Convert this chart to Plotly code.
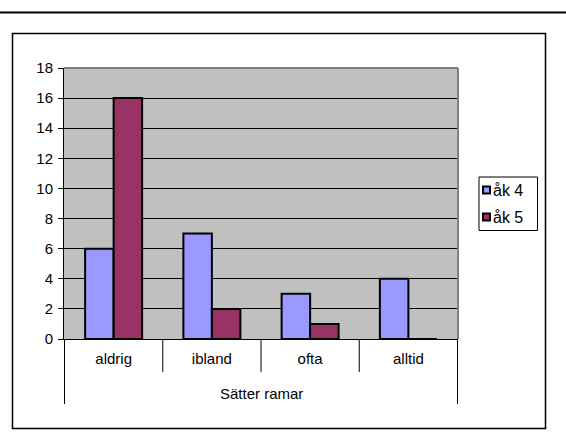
import plotly.graph_objects as go

categories = ["aldrig", "ibland", "ofta", "alltid"]
series_names = ["åk 4", "åk 5"]
ak4_values = [6, 7, 3, 4]
ak5_values = [16, 2, 1, 0]
y_ticks = [0, 2, 4, 6, 8, 10, 12, 14, 16, 18]
axis_title = "Sätter ramar"
colors = ["#9999FF", "#993366"]

W_PX, H_PX = 566, 441
L, R, T, B = 64, 458, 68, 339
PW, PH = R - L, B - T


def px(x):
    return (x - L) / PW


def py(y):
    return (B - y) / PH


FONT = "Liberation Sans, Arial, sans-serif"
FS = 15

fig = go.Figure()
for name, vals, col in zip(series_names, [ak4_values, ak5_values], colors):
    fig.add_trace(go.Bar(
        x=categories, y=vals, name=name,
        marker=dict(color=col, line=dict(color="black", width=2)),
        showlegend=False, hoverinfo="skip",
    ))

shapes = []
# top rule across the page
shapes.append(dict(type="line", xref="paper", yref="paper",
                   x0=px(0), x1=px(W_PX), y0=py(12.5), y1=py(12.5),
                   line=dict(color="black", width=2)))
# chart frame
shapes.append(dict(type="rect", xref="paper", yref="paper",
                   x0=px(12.5), x1=px(545.5), y0=py(33.5), y1=py(428.5),
                   line=dict(color="black", width=1.5), layer="below"))
# plot area top/right grey borders
shapes.append(dict(type="line", xref="paper", yref="paper",
                   x0=0, x1=1, y0=1, y1=1, line=dict(color="#808080", width=2)))
shapes.append(dict(type="line", xref="paper", yref="paper",
                   x0=1, x1=1, y0=0, y1=1, line=dict(color="#808080", width=2)))
# category dividers
n = len(categories)
for i in range(n + 1):
    outer = i == 0 or i == n
    shapes.append(dict(type="line", xref="x", yref="paper",
                       x0=i - 0.5, x1=i - 0.5, y0=0, y1=py(404 if outer else 372),
                       line=dict(color="black", width=1)))

# manual legend
shapes.append(dict(type="rect", xref="paper", yref="paper",
                   x0=px(479), x1=px(537.5), y0=py(177), y1=py(230.5),
                   line=dict(color="black", width=1), fillcolor="white"))
annotations = []
legend_y = [190, 217]
for name, col, ly in zip(series_names, colors, legend_y):
    shapes.append(dict(type="rect", xref="paper", yref="paper",
                       x0=px(483), x1=px(490), y0=py(ly - 3.5), y1=py(ly + 3.5),
                       line=dict(color="black", width=2), fillcolor=col))
    annotations.append(dict(x=px(491), y=py(ly), xref="paper", yref="paper",
                            text=name, showarrow=False, xanchor="left", yanchor="middle",
                            font=dict(family=FONT, size=16, color="black")))

annotations.append(dict(x=0.5, y=py(393), xref="paper", yref="paper",
                        text=axis_title, showarrow=False, xanchor="center", yanchor="middle",
                        font=dict(family=FONT, size=FS, color="black")))

fig.update_layout(
    width=W_PX, height=H_PX,
    margin=dict(l=L, r=W_PX - R, t=T, b=H_PX - B, pad=0),
    paper_bgcolor="white", plot_bgcolor="#C0C0C0",
    barmode="group", bargap=0.42, bargroupgap=0,
    font=dict(family=FONT, size=FS, color="black"),
    shapes=shapes, annotations=annotations,
    showlegend=False,
)
fig.update_xaxes(
    type="category", showline=True, linecolor="black", linewidth=1,
    ticks="", showgrid=False, ticklabelstandoff=6,
    tickfont=dict(family=FONT, size=FS, color="black"),
)
fig.update_yaxes(
    range=[0, 18], tickvals=y_ticks, showline=True, linecolor="black", linewidth=1,
    ticks="outside", ticklen=5, tickcolor="black", tickwidth=1,
    showgrid=True, gridcolor="black", gridwidth=1, zeroline=False,
    ticklabelstandoff=2,
    tickfont=dict(family=FONT, size=FS, color="black"),
)

fig.write_html("out.html", config={"displayModeBar": False},
               post_script="document.body.style.margin='0';document.body.style.padding='0';")
